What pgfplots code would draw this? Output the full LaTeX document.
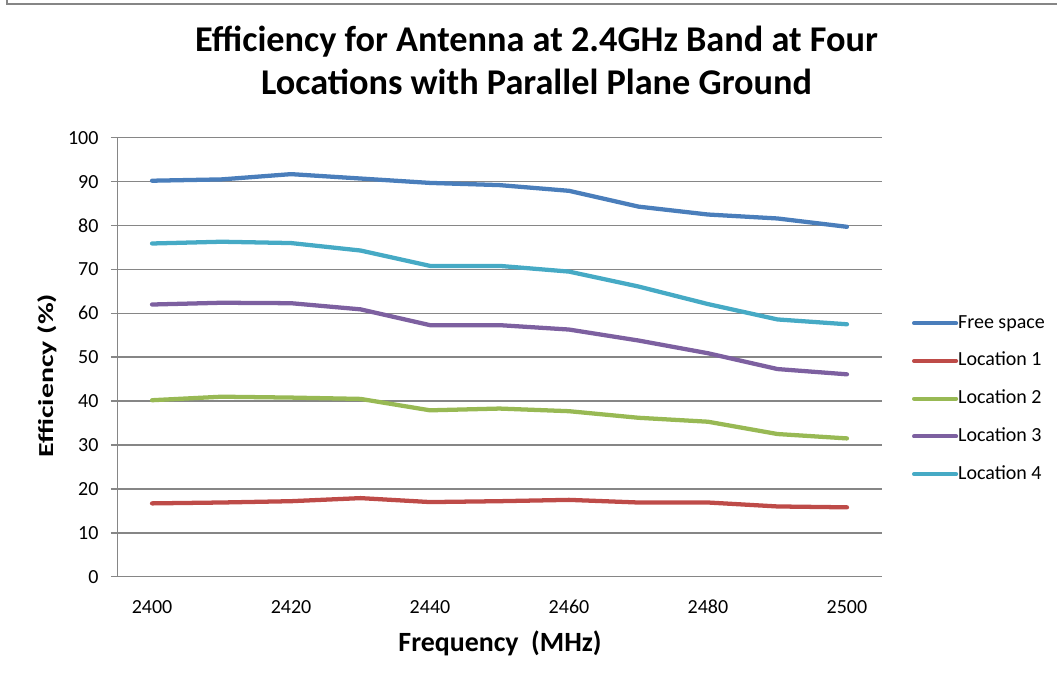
\documentclass[border=0pt]{standalone}
\usepackage{fontspec}
\setmainfont{Carlito}
\usepackage{graphicx}
\usepackage{pgfplots}
\pgfplotsset{compat=1.18}
\usepackage{pgfplotstable}

\definecolor{cfree}{HTML}{4A7EBB}
\definecolor{cloca}{HTML}{BE4B48}
\definecolor{clocb}{HTML}{98B954}
\definecolor{clocc}{HTML}{7D60A0}
\definecolor{clocd}{HTML}{46AAC5}
\definecolor{gridgray}{HTML}{868686}

% efficiency (%)
\pgfplotstableread{
freq free loca locb locc locd
2400 90.2 16.7 40.2 62.0 75.9
2410 90.5 16.9 41.0 62.4 76.3
2420 91.7 17.2 40.8 62.3 76.0
2430 90.7 17.9 40.5 60.9 74.3
2440 89.7 17.0 37.9 57.3 70.8
2450 89.2 17.2 38.3 57.3 70.8
2460 87.9 17.5 37.7 56.3 69.5
2470 84.3 16.9 36.2 53.8 66.1
2480 82.5 16.9 35.3 50.9 62.1
2490 81.6 16.0 32.5 47.3 58.6
2500 79.7 15.8 31.5 46.1 57.5
}\effdata

\newcommand{\tickfont}{\fontsize{15}{17}\selectfont}

\begin{document}
\begin{tikzpicture}
\useasboundingbox (0pt,0pt) rectangle (792.75pt,511.5pt);
% chart area frame (cropped at right and bottom)
\draw[gridgray,line width=1.5pt] (5.0pt,511.5pt) -- (5.0pt,508.5pt) -- (792.75pt,508.5pt);

\node[anchor=base,font=\fontsize{27.2}{30}\selectfont\bfseries] at (402.4pt,472.7pt)
  {Efficiency for Antenna at 2.4GHz Band at Four};
\node[anchor=base,font=\fontsize{27.2}{30}\selectfont\bfseries] at (402.4pt,440.25pt)
  {Locations with Parallel Plane Ground};

\begin{axis}[
  at={(87.975pt,78.975pt)}, anchor=south west,
  width=573.3pt, height=329.25pt,
  scale only axis,
  xmin=2395, xmax=2505,
  ymin=0, ymax=100,
  xtick={2400,2420,...,2500},
  ytick={0,10,...,100},
  axis x line*=bottom, axis y line*=left,
  axis line style={gridgray,line width=1.1pt,-},
  ymajorgrids,
  grid style={gridgray,line width=1.1pt},
  tick align=outside,
  major tick length=4.9pt,
  y tick style={gridgray,line width=1.1pt},
  x tick style={draw=none},
  tick label style={font=\tickfont},
  /pgf/number format/assume math mode=true,
  /pgf/number format/1000 sep={},
  yticklabel style={anchor=east,inner sep=0pt,xshift=-9pt},
  xticklabel style={anchor=north,inner sep=0pt,yshift=-12.5pt},
  xlabel={\bfseries Frequency\ \ (MHz)},
  xlabel style={font=\fontsize{20.9}{24}\selectfont,anchor=base,
    at={(axis description cs:0.5007,-0.1708)}},
  ylabel={\scalebox{1.4}[1]{\bfseries Efficiency (\%)}},
  ylabel style={font=\fontsize{16}{19}\selectfont,anchor=base,
    at={(axis description cs:-0.0837,0.458)}},
  legend style={at={(axis description cs:1.0393,0.4055)},anchor=west,
    draw=none,fill=none,inner sep=0pt,font=\tickfont,row sep=14.8pt,
    nodes={inner sep=0pt,text height=10.5pt,text depth=3pt},
    /tikz/every even column/.append style={column sep=2.5pt}},
  legend cell align=left,
  legend image code/.code={\draw[#1,line width=3pt] (0pt,0pt) -- (31.6pt,0pt);},
  every axis plot/.append style={line width=3.2pt,line join=round,line cap=round},
]
\addplot[cfree] table[x=freq,y=free] {\effdata};
\addlegendentry{Free space}
\addplot[cloca] table[x=freq,y=loca] {\effdata};
\addlegendentry{Location 1}
\addplot[clocb] table[x=freq,y=locb] {\effdata};
\addlegendentry{Location 2}
\addplot[clocc] table[x=freq,y=locc] {\effdata};
\addlegendentry{Location 3}
\addplot[clocd] table[x=freq,y=locd] {\effdata};
\addlegendentry{Location 4}
\end{axis}
\end{tikzpicture}
\end{document}
